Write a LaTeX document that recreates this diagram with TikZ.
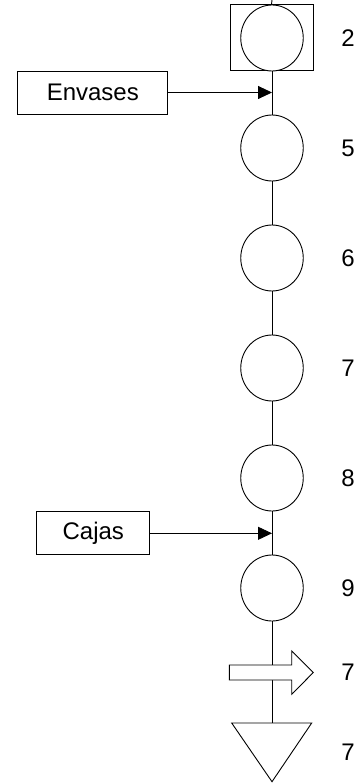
\documentclass[tikz,border=0pt]{standalone}
\usepackage{fontspec}
\setmainfont{Liberation Sans}
\usetikzlibrary{shapes.geometric,arrows.meta}
\begin{document}
\begin{tikzpicture}[x=1pt,y=-1pt,
  line width=0.9pt,
  op/.style={ellipse,draw,fill=white,minimum width=62.5pt,minimum height=66pt,inner sep=0pt},
  inbox/.style={rectangle,draw,fill=white,minimum height=43pt,inner sep=0pt,font=\fontsize{24}{27}\selectfont},
  num/.style={font=\fontsize{24}{27}\selectfont,anchor=center},
  feed/.style={-{Triangle[length=14pt,width=13pt]}}]
\useasboundingbox (0,0) rectangle (361,783);
% nodes
\coordinate (top) at (272,0);
\node[rectangle,draw,fill=white,minimum width=83pt,minimum height=66pt,inner sep=0pt] (insp) at (271.5,37.7) {};
\node[op] (c2) at (272,38) {};
\node[op] (c5) at (272,148) {};
\node[op] (c6) at (272,258) {};
\node[op] (c7) at (272,368) {};
\node[op] (c8) at (272,478) {};
\node[op] (c9) at (272,588) {};
\coordinate (tri) at (272,723);
\coordinate (eIn) at (272,92.5);
\coordinate (cIn) at (272,533.3);
\node[inbox,minimum width=150pt] (env) at (92.8,92.5) {Envases};
\node[inbox,minimum width=113pt] (caj) at (93.3,533.3) {Cajas};
% vertical line
\draw (top) -- (insp.north);
\draw (c2.south) -- (c5.north);
\draw (c5.south) -- (c6.north);
\draw (c6.south) -- (c7.north);
\draw (c7.south) -- (c8.north);
\draw (c8.south) -- (c9.north);
\draw (c9.south) -- (tri);
% feed arrows
\draw[feed] (env.east) -- (eIn);
\draw[feed] (caj.east) -- (cIn);
% transport arrow
\draw[fill=white] (229.3,665) -- (291.7,665) -- (291.7,651) -- (313.3,672.5) -- (291.7,694.3) -- (291.7,680) -- (229.3,680) -- cycle;
% storage triangle
\draw[fill=white,line join=miter] (231.7,723) -- (311.7,723) -- (272,781.7) -- cycle;
% labels
\node[num] (l2) at (348,38) {2};
\node[num] (l5) at (348,148) {5};
\node[num] (l6) at (348,258) {6};
\node[num] (l7) at (348,368) {7};
\node[num] (l8) at (348,478) {8};
\node[num] (l9) at (348,588) {9};
\node[num] (l7b) at (348,672.5) {7};
\node[num] (l7c) at (348,752) {7};
\end{tikzpicture}
\end{document}
